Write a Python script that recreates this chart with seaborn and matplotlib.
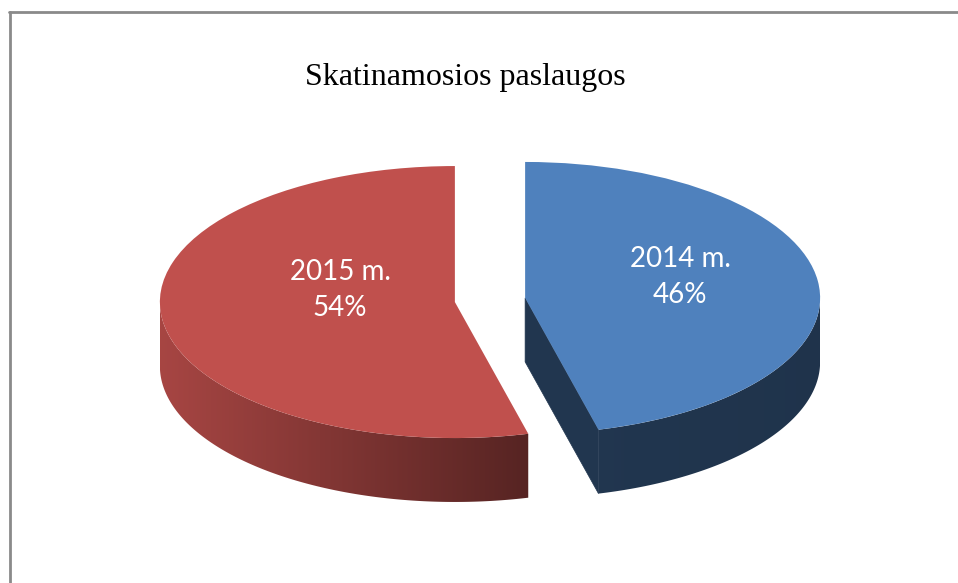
import numpy as np
import matplotlib
matplotlib.use("Agg")
import matplotlib.pyplot as plt
from matplotlib.patches import Polygon
from matplotlib.lines import Line2D
import seaborn as sns

# data
labels = ["2014 m.", "2015 m."]
values = [46, 54]
colors = ["#4F81BD", "#C0504D"]
title = "Skatinamosios paslaugos"

# side shading (left, right) as a factor of the top colour
side_shade = [(0.42, 0.40), (0.87, 0.45)]
explode = [0.12, 0.12]
depth = 0.47

sns.set_theme(style="white")

fig = plt.figure(figsize=(9.58, 5.83), dpi=100)
ax = fig.add_axes([0, 0, 1, 1])

wedges, _ = ax.pie(values, colors=colors, startangle=90, counterclock=False,
                   explode=explode, wedgeprops=dict(linewidth=0))


def shade(color, f):
    rgb = np.array(matplotlib.colors.to_rgb(color))
    return np.clip(rgb * f, 0, 1)


# draw the sides of each slice
for w, col, (f0, f1) in zip(wedges, colors, side_shade):
    w.set_zorder(3)
    cx, cy = w.center
    t1, t2 = w.theta1, w.theta2
    # front arc (lower half of ellipse)
    for shift in (0, -360, 360):
        lo = max(t1, -180 + shift)
        hi = min(t2, 0 + shift)
        if hi <= lo:
            continue
        angs = np.radians(np.linspace(lo, hi, 200))
        xs = cx + np.cos(angs)
        ys = cy + np.sin(angs)
        pts = list(zip(xs, ys)) + list(zip(xs[::-1], ys[::-1] - depth))
        poly = Polygon(pts, closed=True, facecolor="none", edgecolor="none", zorder=1)
        ax.add_patch(poly)
        grad = np.linspace(f0, f1, 256)
        img = np.array([[shade(col, g) for g in grad]])
        ax.imshow(img, extent=[xs.min(), xs.max(), ys.min() - depth, ys.max()],
                  aspect="auto", interpolation="bilinear", clip_path=poly, zorder=1)
    # cut faces that look toward the viewer
    for a, sign in ((t1, 1), (t2, -1)):
        if sign * np.cos(np.radians(a)) > 1e-6:
            px = cx + np.cos(np.radians(a))
            py = cy + np.sin(np.radians(a))
            c = shade(col, f0)
            poly = Polygon([(cx, cy), (px, py), (px, py - depth), (cx, cy - depth)],
                           closed=True, facecolor=c, edgecolor=c, linewidth=0.5, zorder=2)
            ax.add_patch(poly)

# pie center at pixel (490, 300), radii 295 x 136 px
ax.set_aspect("auto")
ax.set_xlim(-490 / 295, (958 - 490) / 295)
ax.set_ylim((300 - 583) / 136, 300 / 136)
ax.axis("off")

# slice labels
label_px = [(680, 277), (340, 290)]
for (lx, ly), lab, v in zip(label_px, labels, values):
    ax.text((lx - 490) / 295, (300 - ly) / 136, f"{lab}\n{v}%", color="white",
            ha="center", va="center", fontsize=20, family=["Lato", "DejaVu Sans"],
            linespacing=1.45, zorder=5)

fig.text(465 / 958, 1 - 77 / 583, title, ha="center", va="center",
         fontsize=23, family=["Liberation Serif", "DejaVu Serif"], color="black")

# chart frame (top and left edges visible)
fig.add_artist(Line2D([9 / 958, 1], [1 - 12 / 583] * 2, transform=fig.transFigure,
                      color="#8a8a8a", lw=2))
fig.add_artist(Line2D([10 / 958] * 2, [1 - 12 / 583, 0], transform=fig.transFigure,
                      color="#8a8a8a", lw=2))

fig.savefig("out.png", dpi=100)
